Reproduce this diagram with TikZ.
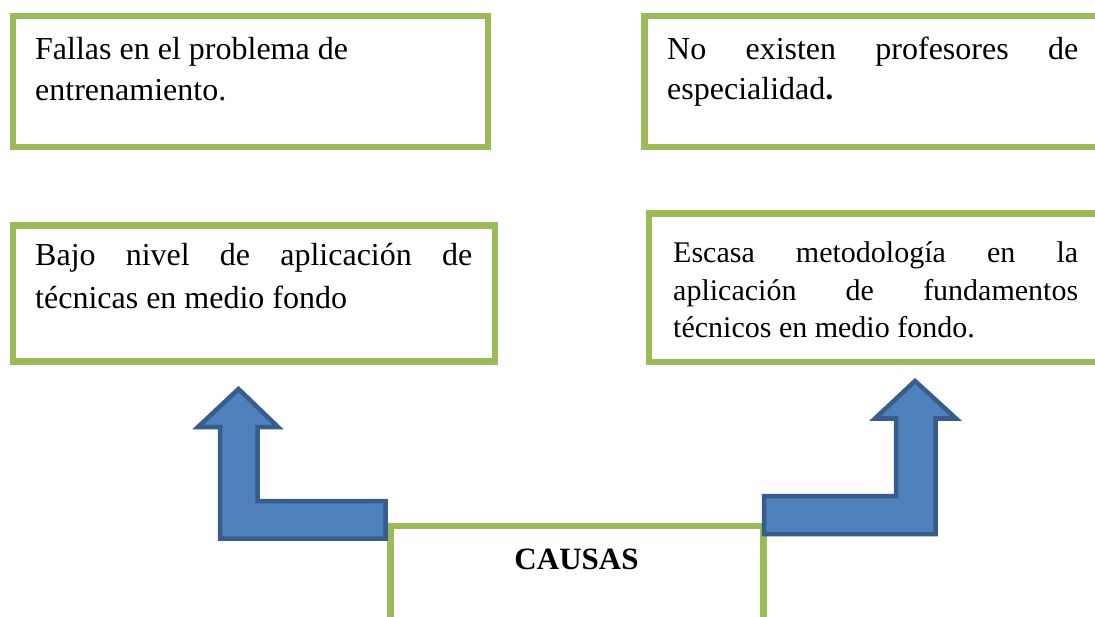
\documentclass[tikz,border=0pt]{standalone}
\usepackage{fontspec}
\setmainfont{Liberation Serif}
\definecolor{boxgreen}{HTML}{9BBB59}
\definecolor{arrowfill}{HTML}{4F81BD}
\definecolor{arrowline}{HTML}{385D8A}
\begin{document}
\begin{tikzpicture}[x=1pt,y=-1pt,
  causebox/.style={draw=boxgreen, line width=6.5pt, fill=white, outer sep=0pt, inner sep=0pt, anchor=north west},
  bigarrow/.style={fill=arrowfill, draw=arrowline, line width=4.5pt, line join=miter},
  txt/.style={anchor=base west, inner sep=0pt, font=\fontsize{32}{38}\selectfont},
  txtsmall/.style={anchor=base west, inner sep=0pt, font=\fontsize{30}{36}\selectfont}]
\useasboundingbox (0,0) rectangle (1095,617);
\clip (0,0) rectangle (1095,617);
\fill[white] (0,0) rectangle (1095,617);

% boxes
\node[causebox, minimum width=475pt, minimum height=131pt] (b1) at (13,16) {};
\node[causebox, minimum width=465.5pt, minimum height=131pt] (b2) at (644.5,16) {};
\node[causebox, minimum width=482pt, minimum height=136pt] (b3) at (13,225.5) {};
\node[causebox, minimum width=461pt, minimum height=148.5pt] (b4) at (649,213.5) {};
\node[causebox, minimum width=373pt, minimum height=99pt] (c) at (390.5,526) {};

% texts
\node[txt] (t1a) at (35,60) {Fallas en el problema de};
\node[txt] (t1b) at (35,101) {entrenamiento.};

\node[txt] (t2a) at (667,60) {\makebox[411pt][s]{No existen profesores de}};
\node[txt] (t2b) at (667,100) {especialidad\textbf{.}};

\node[txt] (t3a) at (35,266) {\makebox[437pt][s]{Bajo nivel de aplicación de}};
\node[txt] (t3b) at (35,309) {técnicas en medio fondo};

\node[txtsmall] (t4a) at (673,263) {\makebox[405pt][s]{Escasa metodología en la}};
\node[txtsmall] (t4b) at (673,301) {\makebox[405pt][s]{aplicación de fundamentos}};
\node[txtsmall] (t4c) at (673,338) {técnicos en medio fondo.};

\node[anchor=base, inner sep=0pt, font=\fontsize{31}{36}\selectfont\bfseries] (ct) at (576.5,569) {CAUSAS};

% bent arrows
\draw[bigarrow] (238.5,389) -- (278,427) -- (257.5,427) -- (257.5,501) -- (385.5,501)
  -- (385.5,538.5) -- (220,538.5) -- (220,427) -- (198,427) -- cycle;
\draw[bigarrow] (915,381) -- (956,418.5) -- (935.5,418.5) -- (935.5,534) -- (764,534)
  -- (764,496) -- (896,496) -- (896,418.5) -- (875,418.5) -- cycle;
\end{tikzpicture}
\end{document}
